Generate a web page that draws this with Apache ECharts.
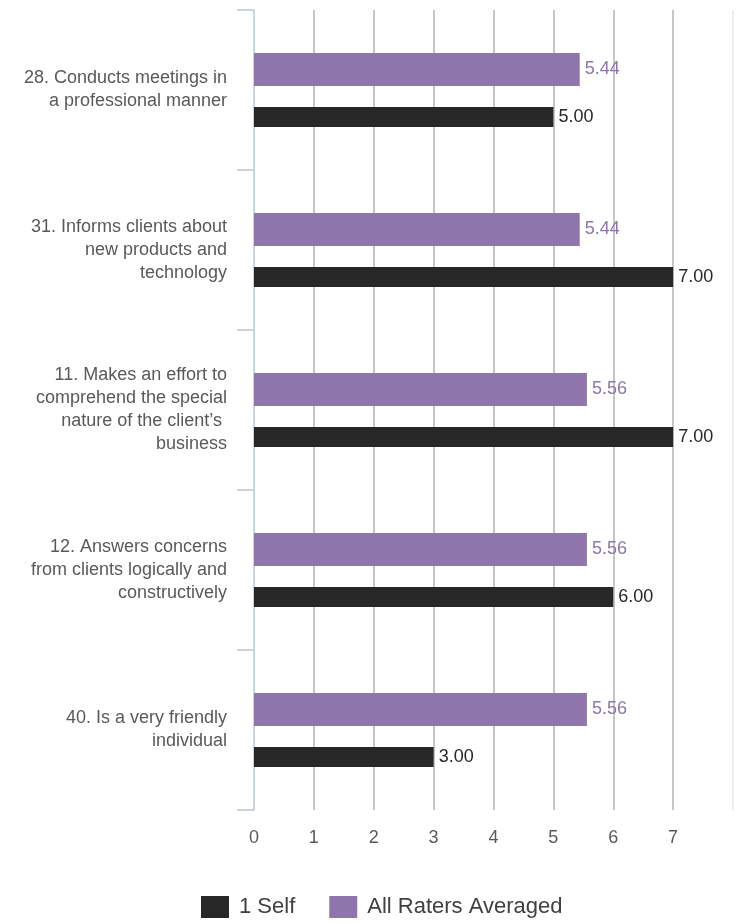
<!DOCTYPE html>
<html>
<head>
<meta charset="utf-8">
<script src="https://cdn.jsdelivr.net/npm/echarts@6/dist/echarts.min.js"></script>
<style>
  html, body { margin: 0; padding: 0; background: #ffffff; }
  #chart { width: 742px; height: 924px; }
</style>
</head>
<body>
<div id="chart"></div>
<script>
// Survey items, listed top to bottom
const categories = [
  '28. Conducts meetings in\na professional manner',
  '31. Informs clients about\nnew products and\ntechnology',
  '11. Makes an effort to\ncomprehend the special\nnature of the client\u2019s \nbusiness',
  '12. Answers concerns\nfrom clients logically and\nconstructively',
  '40. Is a very friendly\nindividual'
];
const selfScores = [5.00, 7.00, 7.00, 6.00, 3.00];
const raterAverages = [5.44, 5.44, 5.56, 5.56, 5.56];
const seriesNames = ['1 Self', 'All Raters Averaged'];
const xTicks = [0, 1, 2, 3, 4, 5, 6, 7, 8];

const PURPLE = '#8e75ab';
const DARK = '#272727';
const FONT = '"Liberation Sans", Arial, sans-serif';

const chart = echarts.init(document.getElementById('chart'));
chart.setOption({
  animation: false,
  backgroundColor: '#ffffff',
  textStyle: { fontFamily: FONT },
  grid: { left: 254, right: 9, top: 10, bottom: 114, containLabel: false },
  legend: {
    data: seriesNames,
    top: 896,
    left: 201,
    padding: 0,
    itemWidth: 28,
    itemHeight: 22,
    itemGap: 34,
    icon: 'rect',
    textStyle: { fontSize: 22, color: '#404040', fontFamily: FONT, padding: [0, 0, 0, 5] }
  },
  xAxis: {
    type: 'value',
    min: xTicks[0],
    max: xTicks[xTicks.length - 1],
    interval: 1,
    axisLine: { show: false },
    axisTick: { show: false },
    axisLabel: {
      showMaxLabel: false,
      margin: 19,
      fontSize: 18,
      color: '#595959',
      fontFamily: FONT
    },
    splitLine: {
      show: true,
      showMinLine: false,
      lineStyle: {
        width: 2,
        color: ['#c6c6c6', '#c6c6c6', '#c6c6c6', '#c6c6c6', '#c6c6c6', '#c6c6c6', '#c6c6c6', '#eeeeee']
      }
    }
  },
  yAxis: {
    type: 'category',
    data: categories,
    inverse: true,
    axisLine: { show: true, lineStyle: { color: '#c8d5e2', width: 2 } },
    axisTick: { show: true, length: 17, lineStyle: { color: '#c8d5e2', width: 2 } },
    axisLabel: {
      margin: 27,
      fontSize: 18,
      lineHeight: 23,
      color: '#595959',
      align: 'right',
      fontFamily: FONT
    },
    splitLine: { show: false }
  },
  series: [
    {
      name: seriesNames[1],
      type: 'bar',
      data: raterAverages,
      barWidth: 33,
      barGap: '64%',
      itemStyle: { color: PURPLE },
      label: {
        show: true,
        position: 'right',
        distance: 5,
        fontSize: 18,
        color: PURPLE,
        fontFamily: FONT,
        formatter: p => p.value.toFixed(2)
      }
    },
    {
      name: seriesNames[0],
      type: 'bar',
      data: selfScores,
      barWidth: 20,
      barGap: '64%',
      itemStyle: { color: DARK },
      label: {
        show: true,
        position: 'right',
        distance: 5,
        fontSize: 18,
        color: DARK,
        fontFamily: FONT,
        formatter: p => p.value.toFixed(2)
      }
    }
  ]
});
</script>
</body>
</html>
